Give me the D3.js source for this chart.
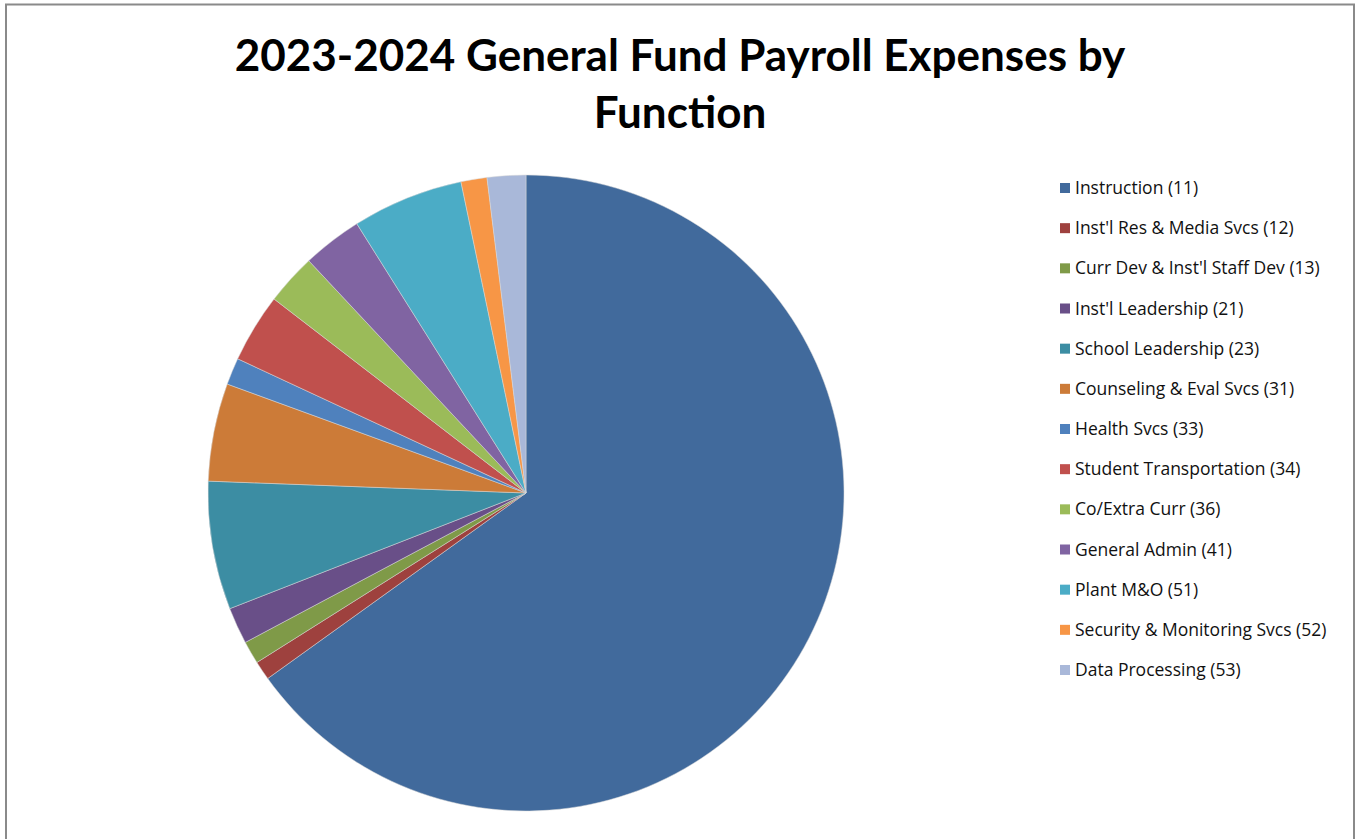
<html>
<script src='https://d3js.org/d3.v7.min.js'></script>
<style>
  body { margin: 0; background: #fff; }
  text { font-family: Lato, "Open Sans", sans-serif; }
  .leg { font-family: "Open Sans", Lato, sans-serif; }
</style>
<body onload='init()'>
<svg width=1356 height=839></svg>
<script>
// Data (share of payroll, %)
const categories = ["Instruction (11)", "Inst'l Res & Media Svcs (12)", "Curr Dev & Inst'l Staff Dev (13)",
  "Inst'l Leadership (21)", "School Leadership (23)", "Counseling & Eval Svcs (31)", "Health Svcs (33)",
  "Student Transportation (34)", "Co/Extra Curr (36)", "General Admin (41)", "Plant M&O (51)",
  "Security & Monitoring Svcs (52)", "Data Processing (53)"]
const values = [65.1, 0.97, 1.16, 1.86, 6.52, 4.97, 1.37, 3.51, 2.59, 3.04, 5.65, 1.32, 1.96]
const colors = ["#416A9C", "#9E413E", "#7F9A48", "#694F88", "#3C8DA3", "#CC7B38", "#4F81BD",
  "#C0504D", "#9BBB59", "#8064A2", "#4BACC6", "#F79646", "#A9B8D9"]

function init() {
    const svg = d3.select("svg")

    // chart border
    svg.append("rect")
    .attr("x", 6).attr("y", 4.5).attr("width", 1348).attr("height", 850)
    .attr("fill", "none").attr("stroke", "#8a8a8a").attr("stroke-width", 2)

    // Title
    const title = svg.append("text")
    .attr("text-anchor", "middle")
    .attr("font-weight", "bold")
    .attr("font-size", 44)
    .attr("fill", "#000")
    title.append("tspan").attr("x", 680).attr("y", 71).text("2023-2024 General Fund Payroll Expenses by")
    title.append("tspan").attr("x", 680).attr("y", 128).text("Function")

    // Pie
    const data = categories.map((c, i) => ({ name: c, value: values[i], color: colors[i] }))
    const pie = d3.pie().value(d => d.value).sort(null)
    const arc = d3.arc().innerRadius(0).outerRadius(318)

    svg.append("g")
    .attr("transform", "translate(526,493)")
    .selectAll("path")
    .data(pie(data))
    .enter()
    .append("path")
    .attr("d", arc)
    .attr("fill", d => d.data.color)
    .attr("stroke", "#d8d8d8")
    .attr("stroke-width", 0.5)

    // Legend
    const y = d3.scalePoint().domain(categories).range([188, 670])
    const legend = svg.append("g")
    .selectAll("g")
    .data(data)
    .enter()
    .append("g")
    .attr("transform", d => `translate(1060,${y(d.name)})`)

    legend.append("rect")
    .attr("x", 0).attr("y", -5).attr("width", 10).attr("height", 10)
    .attr("fill", d => d.color)

    legend.append("text")
    .attr("class", "leg")
    .attr("x", 15).attr("y", 6)
    .attr("font-size", 17.5)
    .attr("fill", "#111")
    .text(d => d.name)
}
</script>
</body>
</html>
